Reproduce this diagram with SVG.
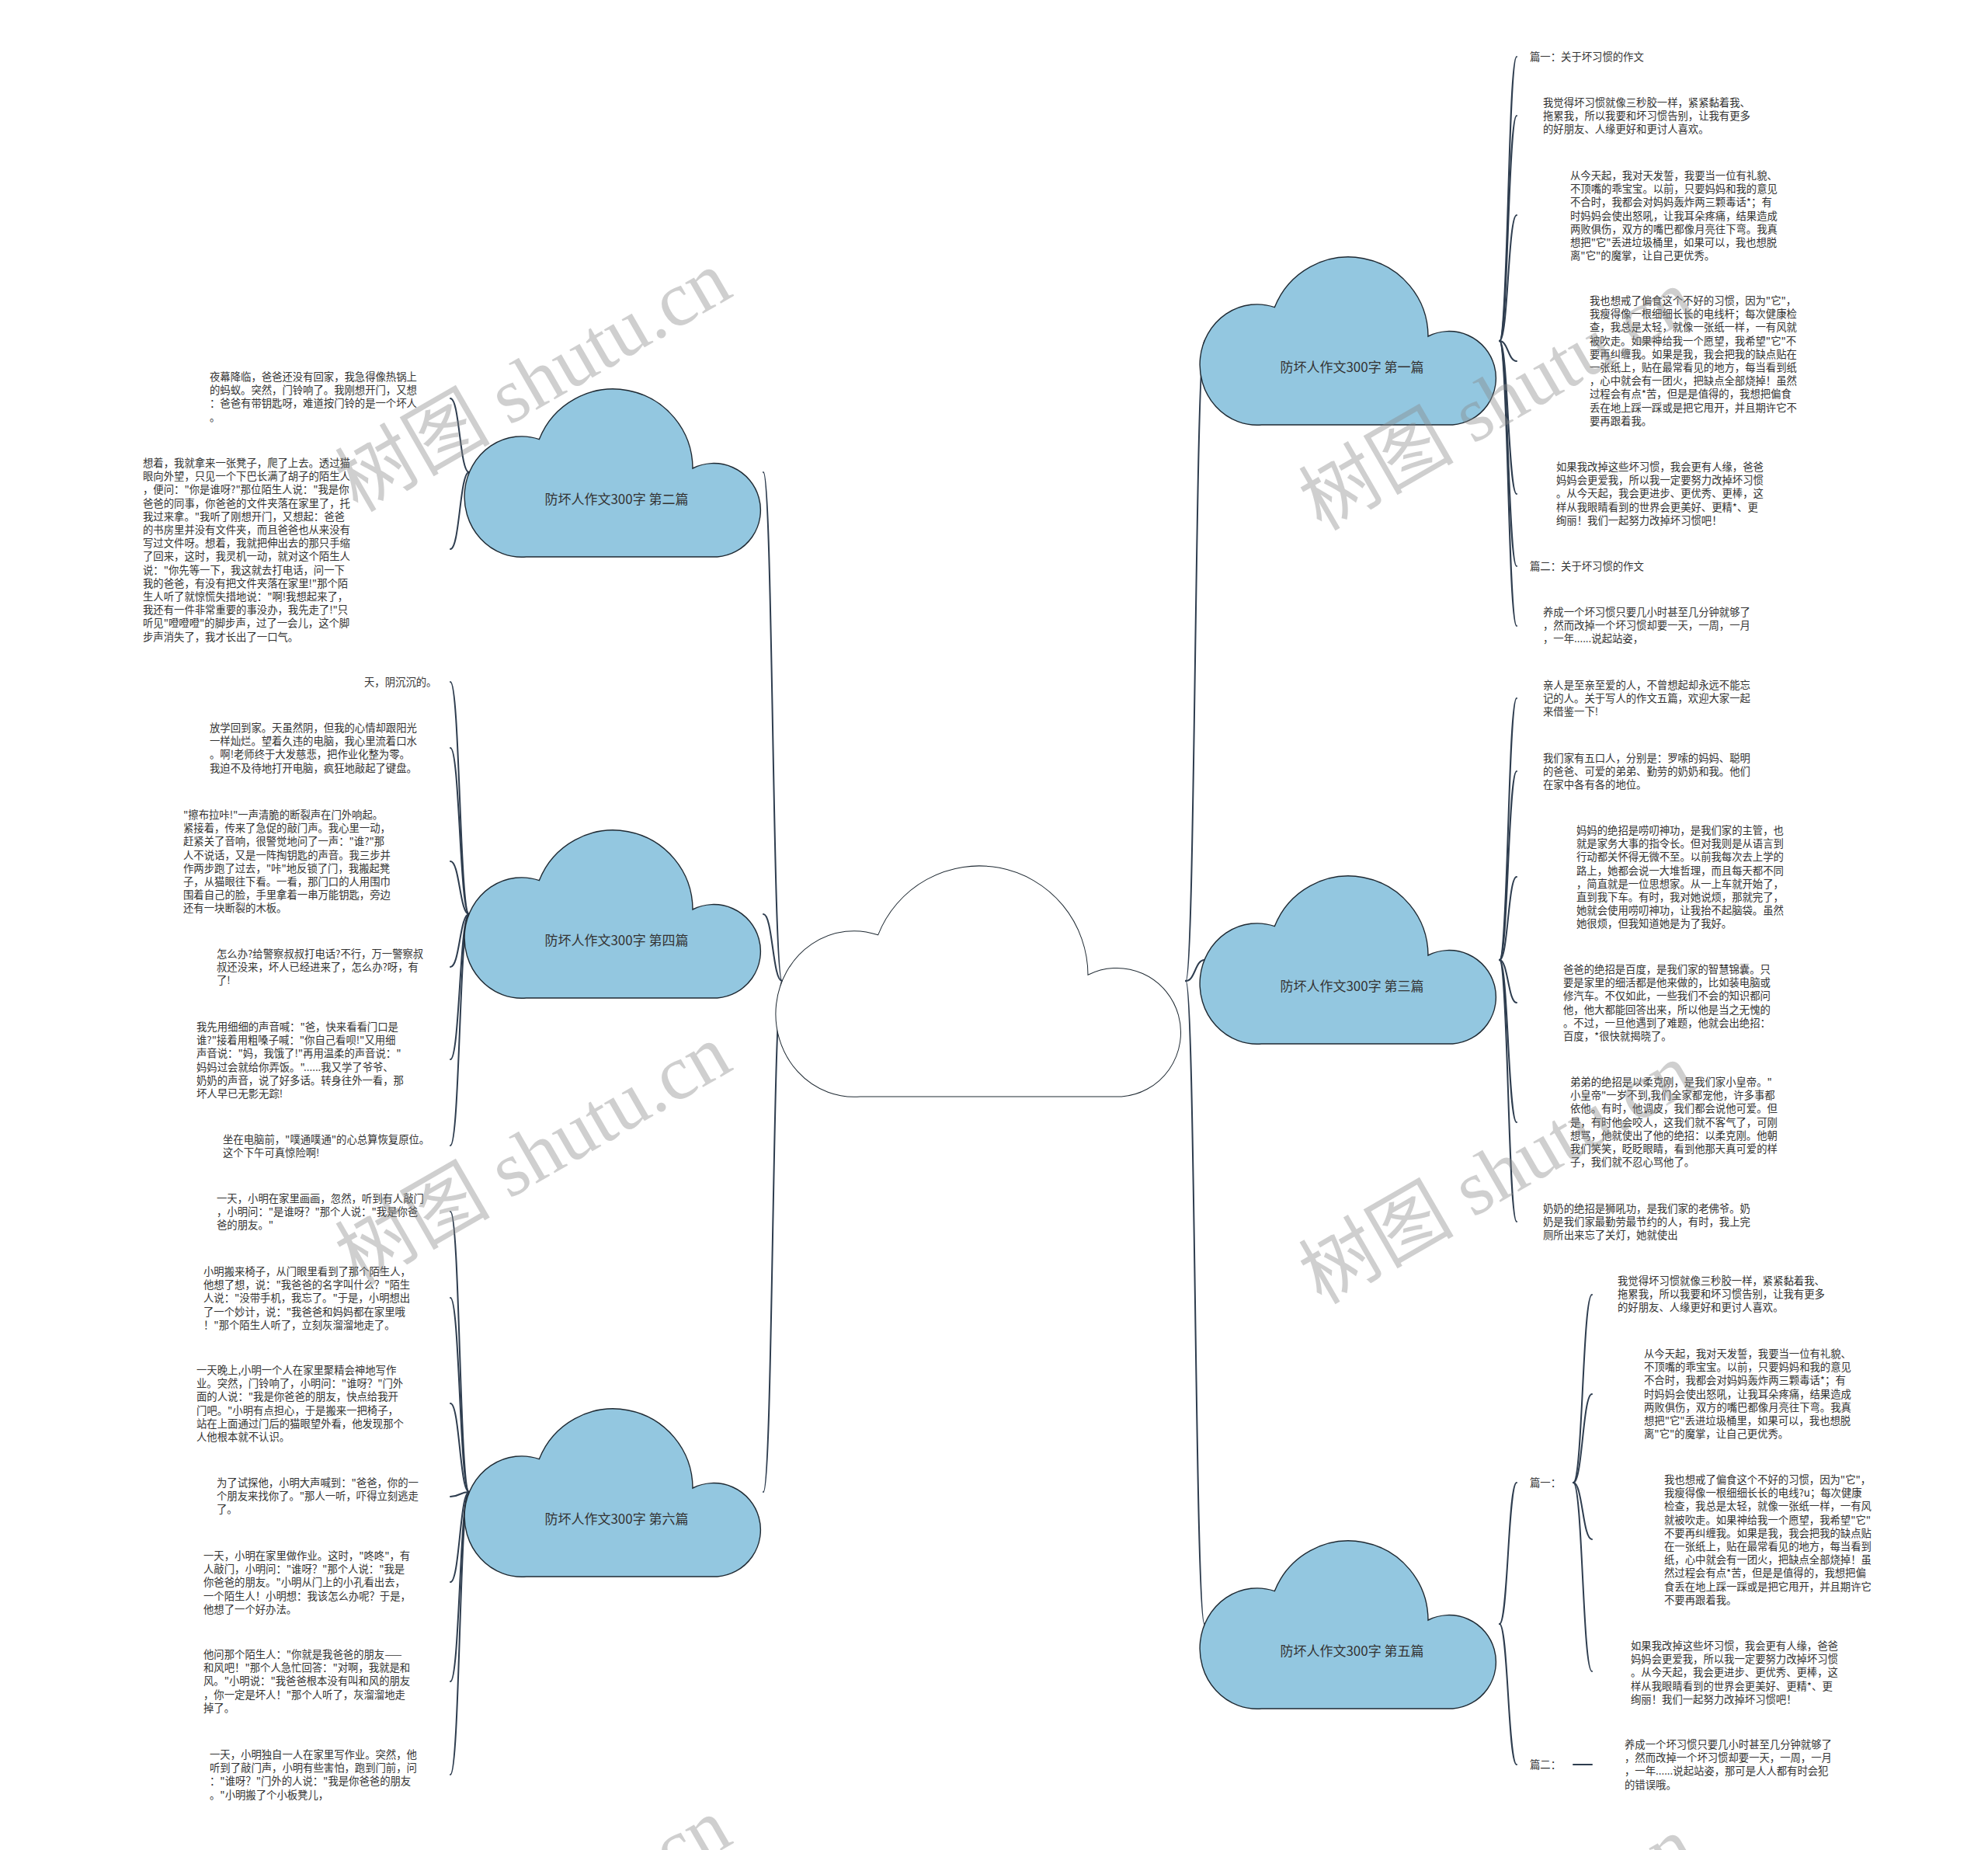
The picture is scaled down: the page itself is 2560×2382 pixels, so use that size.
<svg xmlns="http://www.w3.org/2000/svg" width="2560" height="2382" viewBox="0 0 2560 2382">
<style>
.t{font-family:"Noto Sans CJK SC","Noto Sans",sans-serif;font-size:13.35px;fill:#333}
.n{font-family:"Noto Sans CJK SC","Noto Sans",sans-serif;font-size:17px;fill:#333;text-anchor:middle}
.cl{fill:#93c7e0;stroke:#1f2a33;stroke-width:1.4}
.cc{fill:#fff;stroke:#1f2a33;stroke-width:1}
.c{fill:none;stroke:#2e3d4f;stroke-width:2;stroke-linecap:round}
.w{font-family:"Liberation Serif","Noto Sans CJK SC",serif;font-size:100px;fill:#888;opacity:.4;text-anchor:middle}
</style>
<defs>
<path id="cloud" d="M73.7 216 A73.7 77.7 0 1 1 90.4 64.6 A102.4 102.4 0 0 1 288 102 A60.3 60.3 0 1 1 319.7 216 Z"/>
</defs>
<rect width="2560" height="2382" fill="#fff"/>
<g id="connectors">
<path class="c" d="M1007 1263 C995 1263,995 608,983 608"/>
<path class="c" d="M1007 1263 C995 1263,995 1177,983 1177"/>
<path class="c" d="M1007 1263 C995 1263,995 1921,983 1921"/>
<path class="c" d="M1527 1263 C1539 1263,1539 439,1551 439"/>
<path class="c" d="M1527 1263 C1539 1263,1539 1236,1551 1236"/>
<path class="c" d="M1527 1263 C1539 1263,1539 2091,1551 2091"/>
<path class="c" d="M604 608 C592 608,592 513,580 513"/>
<path class="c" d="M604 608 C592 608,592 707,580 707"/>
<path class="c" d="M604 1177 C592 1177,592 878,580 878"/>
<path class="c" d="M604 1177 C592 1177,592 963,580 963"/>
<path class="c" d="M604 1177 C592 1177,592 1109,580 1109"/>
<path class="c" d="M604 1177 C592 1177,592 1245,580 1245"/>
<path class="c" d="M604 1177 C592 1177,592 1364,580 1364"/>
<path class="c" d="M604 1177 C592 1177,592 1475,580 1475"/>
<path class="c" d="M604 1921 C592 1921,592 1560,580 1560"/>
<path class="c" d="M604 1921 C592 1921,592 1671,580 1671"/>
<path class="c" d="M604 1921 C592 1921,592 1807,580 1807"/>
<path class="c" d="M604 1921 C592 1921,592 1927,580 1927"/>
<path class="c" d="M604 1921 C592 1921,592 2037,580 2037"/>
<path class="c" d="M604 1921 C592 1921,592 2165,580 2165"/>
<path class="c" d="M604 1921 C592 1921,592 2285,580 2285"/>
<path class="c" d="M1931 439 C1942 439,1942 73,1953 73"/>
<path class="c" d="M1931 439 C1942 439,1942 149,1953 149"/>
<path class="c" d="M1931 439 C1942 439,1942 277,1953 277"/>
<path class="c" d="M1931 439 C1942 439,1942 465,1953 465"/>
<path class="c" d="M1931 439 C1942 439,1942 636,1953 636"/>
<path class="c" d="M1931 439 C1942 439,1942 729,1953 729"/>
<path class="c" d="M1931 439 C1942 439,1942 806,1953 806"/>
<path class="c" d="M1931 1236 C1942 1236,1942 899,1953 899"/>
<path class="c" d="M1931 1236 C1942 1236,1942 993,1953 993"/>
<path class="c" d="M1931 1236 C1942 1236,1942 1129,1953 1129"/>
<path class="c" d="M1931 1236 C1942 1236,1942 1291,1953 1291"/>
<path class="c" d="M1931 1236 C1942 1236,1942 1445,1953 1445"/>
<path class="c" d="M1931 1236 C1942 1236,1942 1573,1953 1573"/>
<path class="c" d="M1931 2091 C1942 2091,1942 1909,1953 1909"/>
<path class="c" d="M1931 2091 C1942 2091,1942 2272,1953 2272"/>
<path class="c" d="M2026 1909 C2038 1909,2038 1667,2050 1667"/>
<path class="c" d="M2026 1909 C2038 1909,2038 1795,2050 1795"/>
<path class="c" d="M2026 1909 C2038 1909,2038 1982,2050 1982"/>
<path class="c" d="M2026 1909 C2038 1909,2038 2152,2050 2152"/>
<path class="c" d="M2026 2272 L2050 2272"/>
</g>
<g id="center"><use href="#cloud" class="cc" transform="translate(1007 1115) scale(1.368 1.375)" style="stroke-width:0.73"/></g>
<g id="n1"><use href="#cloud" class="cl" transform="translate(1551 331)"/><text class="n" x="1741" y="479">防坏人作文300字 第一篇</text></g>
<g id="n2"><use href="#cloud" class="cl" transform="translate(604 501)"/><text class="n" x="794" y="649">防坏人作文300字 第二篇</text></g>
<g id="n3"><use href="#cloud" class="cl" transform="translate(1551 1128)"/><text class="n" x="1741" y="1276">防坏人作文300字 第三篇</text></g>
<g id="n4"><use href="#cloud" class="cl" transform="translate(604 1069)"/><text class="n" x="794" y="1217">防坏人作文300字 第四篇</text></g>
<g id="n5"><use href="#cloud" class="cl" transform="translate(1551 1984)"/><text class="n" x="1741" y="2132">防坏人作文300字 第五篇</text></g>
<g id="n6"><use href="#cloud" class="cl" transform="translate(604 1814)"/><text class="n" x="794" y="1962">防坏人作文300字 第六篇</text></g>

<g id="t2a"><text class="t" x="270" y="490"><tspan x="270">夜幕降临，爸爸还没有回家，我急得像热锅上</tspan><tspan x="270" dy="17.2">的蚂蚁。突然，门铃响了。我刚想开门，又想</tspan><tspan x="270" dy="17.2">：爸爸有带钥匙呀，难道按门铃的是一个坏人</tspan><tspan x="270" dy="17.2">。</tspan></text></g>
<g id="t2b"><text class="t" x="184" y="601"><tspan x="184">想着，我就拿来一张凳子，爬了上去。透过猫</tspan><tspan x="184" dy="17.2">眼向外望，只见一个下巴长满了胡子的陌生人</tspan><tspan x="184" dy="17.2">，便问："你是谁呀?"那位陌生人说："我是你</tspan><tspan x="184" dy="17.2">爸爸的同事，你爸爸的文件夹落在家里了，托</tspan><tspan x="184" dy="17.2">我过来拿。"我听了刚想开门，又想起：爸爸</tspan><tspan x="184" dy="17.2">的书房里并没有文件夹，而且爸爸也从来没有</tspan><tspan x="184" dy="17.2">写过文件呀。想着，我就把伸出去的那只手缩</tspan><tspan x="184" dy="17.2">了回来，这时，我灵机一动，就对这个陌生人</tspan><tspan x="184" dy="17.2">说："你先等一下，我这就去打电话，问一下</tspan><tspan x="184" dy="17.2">我的爸爸，有没有把文件夹落在家里!"那个陌</tspan><tspan x="184" dy="17.2">生人听了就惊慌失措地说："啊!我想起来了，</tspan><tspan x="184" dy="17.2">我还有一件非常重要的事没办，我先走了!"只</tspan><tspan x="184" dy="17.2">听见"噔噔噔"的脚步声，过了一会儿，这个脚</tspan><tspan x="184" dy="17.2">步声消失了，我才长出了一口气。</tspan></text></g>
<g id="t4a"><text class="t" x="469" y="883">天，阴沉沉的。</text></g>
<g id="t4b"><text class="t" x="270" y="942"><tspan x="270">放学回到家。天虽然阴，但我的心情却跟阳光</tspan><tspan x="270" dy="17.2">一样灿烂。望着久违的电脑，我心里流着口水</tspan><tspan x="270" dy="17.2">。啊!老师终于大发慈悲，把作业化整为零。</tspan><tspan x="270" dy="17.2">我迫不及待地打开电脑，疯狂地敲起了键盘。</tspan></text></g>
<g id="t4c"><text class="t" x="236" y="1054"><tspan x="236">"擦布拉咔!"一声清脆的断裂声在门外响起。</tspan><tspan x="236" dy="17.2">紧接着，传来了急促的敲门声。我心里一动，</tspan><tspan x="236" dy="17.2">赶紧关了音响，很警觉地问了一声："谁?"那</tspan><tspan x="236" dy="17.2">人不说话，又是一阵掏钥匙的声音。我三步并</tspan><tspan x="236" dy="17.2">作两步跑了过去，"咔"地反锁了门，我搬起凳</tspan><tspan x="236" dy="17.2">子，从猫眼往下看。一看，那门口的人用围巾</tspan><tspan x="236" dy="17.2">围着自己的脸，手里拿着一串万能钥匙，旁边</tspan><tspan x="236" dy="17.2">还有一块断裂的木板。</tspan></text></g>
<g id="t4d"><text class="t" x="279" y="1233"><tspan x="279">怎么办?给警察叔叔打电话?不行，万一警察叔</tspan><tspan x="279" dy="17.2">叔还没来，坏人已经进来了，怎么办?呀，有</tspan><tspan x="279" dy="17.2">了!</tspan></text></g>
<g id="t4e"><text class="t" x="253" y="1327"><tspan x="253">我先用细细的声音喊："爸，快来看看门口是</tspan><tspan x="253" dy="17.2">谁?"接着用粗嗓子喊："你自己看呗!"又用细</tspan><tspan x="253" dy="17.2">声音说："妈，我饿了!"再用温柔的声音说："</tspan><tspan x="253" dy="17.2">妈妈过会就给你弄饭。"......我又学了爷爷、</tspan><tspan x="253" dy="17.2">奶奶的声音，说了好多话。转身往外一看，那</tspan><tspan x="253" dy="17.2">坏人早已无影无踪!</tspan></text></g>
<g id="t4f"><text class="t" x="287" y="1472"><tspan x="287">坐在电脑前，"噗通噗通"的心总算恢复原位。</tspan><tspan x="287" dy="17.2">这个下午可真惊险啊!</tspan></text></g>
<g id="t6a"><text class="t" x="279" y="1548"><tspan x="279">一天，小明在家里画画，忽然，听到有人敲门</tspan><tspan x="279" dy="17.2">，小明问："是谁呀？"那个人说："我是你爸</tspan><tspan x="279" dy="17.2">爸的朋友。"</tspan></text></g>
<g id="t6b"><text class="t" x="262" y="1642"><tspan x="262">小明搬来椅子，从门眼里看到了那个陌生人，</tspan><tspan x="262" dy="17.2">他想了想，说："我爸爸的名字叫什么？"陌生</tspan><tspan x="262" dy="17.2">人说："没带手机，我忘了。"于是，小明想出</tspan><tspan x="262" dy="17.2">了一个妙计，说："我爸爸和妈妈都在家里哦</tspan><tspan x="262" dy="17.2">！"那个陌生人听了，立刻灰溜溜地走了。</tspan></text></g>
<g id="t6c"><text class="t" x="253" y="1769"><tspan x="253">一天晚上,小明一个人在家里聚精会神地写作</tspan><tspan x="253" dy="17.2">业。突然，门铃响了，小明问："谁呀？"门外</tspan><tspan x="253" dy="17.2">面的人说："我是你爸爸的朋友，快点给我开</tspan><tspan x="253" dy="17.2">门吧。"小明有点担心，于是搬来一把椅子，</tspan><tspan x="253" dy="17.2">站在上面通过门后的猫眼望外看，他发现那个</tspan><tspan x="253" dy="17.2">人他根本就不认识。</tspan></text></g>
<g id="t6d"><text class="t" x="279" y="1914"><tspan x="279">为了试探他，小明大声喊到："爸爸，你的一</tspan><tspan x="279" dy="17.2">个朋友来找你了。"那人一听，吓得立刻逃走</tspan><tspan x="279" dy="17.2">了。</tspan></text></g>
<g id="t6e"><text class="t" x="262" y="2008"><tspan x="262">一天，小明在家里做作业。这时，"咚咚"，有</tspan><tspan x="262" dy="17.2">人敲门，小明问："谁呀？"那个人说："我是</tspan><tspan x="262" dy="17.2">你爸爸的朋友。"小明从门上的小孔看出去，</tspan><tspan x="262" dy="17.2">一个陌生人！小明想：我该怎么办呢？于是，</tspan><tspan x="262" dy="17.2">他想了一个好办法。</tspan></text></g>
<g id="t6f"><text class="t" x="262" y="2135"><tspan x="262">他问那个陌生人："你就是我爸爸的朋友——</tspan><tspan x="262" dy="17.2">和风吧！"那个人急忙回答："对啊，我就是和</tspan><tspan x="262" dy="17.2">风。"小明说："我爸爸根本没有叫和风的朋友</tspan><tspan x="262" dy="17.2">，你一定是坏人！"那个人听了，灰溜溜地走</tspan><tspan x="262" dy="17.2">掉了。</tspan></text></g>
<g id="t6g"><text class="t" x="270" y="2264"><tspan x="270">一天，小明独自一人在家里写作业。突然，他</tspan><tspan x="270" dy="17.2">听到了敲门声，小明有些害怕，跑到门前，问</tspan><tspan x="270" dy="17.2">："谁呀？"门外的人说："我是你爸爸的朋友</tspan><tspan x="270" dy="17.2">。"小明搬了个小板凳儿，</tspan></text></g>

<g id="t1a"><text class="t" x="1970" y="78">篇一：关于坏习惯的作文</text></g>
<g id="t1b"><text class="t" x="1987" y="137"><tspan x="1987">我觉得坏习惯就像三秒胶一样，紧紧黏着我、</tspan><tspan x="1987" dy="17.2">拖累我，所以我要和坏习惯告别，让我有更多</tspan><tspan x="1987" dy="17.2">的好朋友、人缘更好和更讨人喜欢。</tspan></text></g>
<g id="t1c"><text class="t" x="2022" y="231"><tspan x="2022">从今天起，我对天发誓，我要当一位有礼貌、</tspan><tspan x="2022" dy="17.2">不顶嘴的乖宝宝。以前，只要妈妈和我的意见</tspan><tspan x="2022" dy="17.2">不合时，我都会对妈妈轰炸两三颗毒话*；有</tspan><tspan x="2022" dy="17.2">时妈妈会使出怒吼，让我耳朵疼痛，结果造成</tspan><tspan x="2022" dy="17.2">两败俱伤，双方的嘴巴都像月亮往下弯。我真</tspan><tspan x="2022" dy="17.2">想把"它"丢进垃圾桶里，如果可以，我也想脱</tspan><tspan x="2022" dy="17.2">离"它"的魔掌，让自己更优秀。</tspan></text></g>
<g id="t1d"><text class="t" x="2047" y="392"><tspan x="2047">我也想戒了偏食这个不好的习惯，因为"它"，</tspan><tspan x="2047" dy="17.2">我瘦得像一根细细长长的电线杆；每次健康检</tspan><tspan x="2047" dy="17.2">查，我总是太轻，就像一张纸一样，一有风就</tspan><tspan x="2047" dy="17.2">被吹走。如果神给我一个愿望，我希望"它"不</tspan><tspan x="2047" dy="17.2">要再纠缠我。如果是我，我会把我的缺点贴在</tspan><tspan x="2047" dy="17.2">一张纸上，贴在最常看见的地方，每当看到纸</tspan><tspan x="2047" dy="17.2">，心中就会有一团火，把缺点全部烧掉！虽然</tspan><tspan x="2047" dy="17.2">过程会有点*苦，但是是值得的，我想把偏食</tspan><tspan x="2047" dy="17.2">丢在地上踩一踩或是把它甩开，并且期许它不</tspan><tspan x="2047" dy="17.2">要再跟着我。</tspan></text></g>
<g id="t1e"><text class="t" x="2004" y="606"><tspan x="2004">如果我改掉这些坏习惯，我会更有人缘，爸爸</tspan><tspan x="2004" dy="17.2">妈妈会更爱我，所以我一定要努力改掉坏习惯</tspan><tspan x="2004" dy="17.2">。从今天起，我会更进步、更优秀、更棒，这</tspan><tspan x="2004" dy="17.2">样从我眼睛看到的世界会更美好、更精*、更</tspan><tspan x="2004" dy="17.2">绚丽！我们一起努力改掉坏习惯吧！</tspan></text></g>
<g id="t1f"><text class="t" x="1970" y="734">篇二：关于坏习惯的作文</text></g>
<g id="t1g"><text class="t" x="1987" y="793"><tspan x="1987">养成一个坏习惯只要几小时甚至几分钟就够了</tspan><tspan x="1987" dy="17.2">，然而改掉一个坏习惯却要一天，一周，一月</tspan><tspan x="1987" dy="17.2">，一年......说起站姿，</tspan></text></g>

<g id="t3a"><text class="t" x="1987" y="887"><tspan x="1987">亲人是至亲至爱的人，不曾想起却永远不能忘</tspan><tspan x="1987" dy="17.2">记的人。关于写人的作文五篇，欢迎大家一起</tspan><tspan x="1987" dy="17.2">来借鉴一下!</tspan></text></g>
<g id="t3b"><text class="t" x="1987" y="981"><tspan x="1987">我们家有五口人，分别是：罗嗦的妈妈、聪明</tspan><tspan x="1987" dy="17.2">的爸爸、可爱的弟弟、勤劳的奶奶和我。他们</tspan><tspan x="1987" dy="17.2">在家中各有各的地位。</tspan></text></g>
<g id="t3c"><text class="t" x="2030" y="1074"><tspan x="2030">妈妈的绝招是唠叨神功，是我们家的主管，也</tspan><tspan x="2030" dy="17.2">就是家务大事的指令长。但对我则是从语言到</tspan><tspan x="2030" dy="17.2">行动都关怀得无微不至。以前我每次去上学的</tspan><tspan x="2030" dy="17.2">路上，她都会说一大堆哲理，而且每天都不同</tspan><tspan x="2030" dy="17.2">，简直就是一位思想家。从一上车就开始了，</tspan><tspan x="2030" dy="17.2">直到我下车。有时，我对她说烦，那就完了，</tspan><tspan x="2030" dy="17.2">她就会使用唠叨神功，让我抬不起脑袋。虽然</tspan><tspan x="2030" dy="17.2">她很烦，但我知道她是为了我好。</tspan></text></g>
<g id="t3d"><text class="t" x="2013" y="1253"><tspan x="2013">爸爸的绝招是百度，是我们家的智慧锦囊。只</tspan><tspan x="2013" dy="17.2">要是家里的细活都是他来做的，比如装电脑或</tspan><tspan x="2013" dy="17.2">修汽车。不仅如此，一些我们不会的知识都问</tspan><tspan x="2013" dy="17.2">他，他大都能回答出来，所以他是当之无愧的</tspan><tspan x="2013" dy="17.2">。不过，一旦他遇到了难题，他就会出绝招：</tspan><tspan x="2013" dy="17.2">百度，*很快就揭晓了。</tspan></text></g>
<g id="t3e"><text class="t" x="2022" y="1398"><tspan x="2022">弟弟的绝招是以柔克刚，是我们家小皇帝。"</tspan><tspan x="2022" dy="17.2">小皇帝"一岁不到,我们全家都宠他，许多事都</tspan><tspan x="2022" dy="17.2">依他。有时，他调皮，我们都会说他可爱。但</tspan><tspan x="2022" dy="17.2">是，有时他会咬人，这我们就不客气了，可刚</tspan><tspan x="2022" dy="17.2">想骂，他就使出了他的绝招：以柔克刚。他朝</tspan><tspan x="2022" dy="17.2">我们笑笑，眨眨眼睛，看到他那天真可爱的样</tspan><tspan x="2022" dy="17.2">子，我们就不忍心骂他了。</tspan></text></g>
<g id="t3f"><text class="t" x="1987" y="1561"><tspan x="1987">奶奶的绝招是狮吼功，是我们家的老佛爷。奶</tspan><tspan x="1987" dy="17.2">奶是我们家最勤劳最节约的人，有时，我上完</tspan><tspan x="1987" dy="17.2">厕所出来忘了关灯，她就使出</tspan></text></g>

<g id="t5p1"><text class="t" x="1970" y="1914">篇一：</text></g>
<g id="t5a"><text class="t" x="2083" y="1654"><tspan x="2083">我觉得坏习惯就像三秒胶一样，紧紧黏着我、</tspan><tspan x="2083" dy="17.2">拖累我，所以我要和坏习惯告别，让我有更多</tspan><tspan x="2083" dy="17.2">的好朋友、人缘更好和更讨人喜欢。</tspan></text></g>
<g id="t5b"><text class="t" x="2117" y="1748"><tspan x="2117">从今天起，我对天发誓，我要当一位有礼貌、</tspan><tspan x="2117" dy="17.2">不顶嘴的乖宝宝。以前，只要妈妈和我的意见</tspan><tspan x="2117" dy="17.2">不合时，我都会对妈妈轰炸两三颗毒话*；有</tspan><tspan x="2117" dy="17.2">时妈妈会使出怒吼，让我耳朵疼痛，结果造成</tspan><tspan x="2117" dy="17.2">两败俱伤，双方的嘴巴都像月亮往下弯。我真</tspan><tspan x="2117" dy="17.2">想把"它"丢进垃圾桶里，如果可以，我也想脱</tspan><tspan x="2117" dy="17.2">离"它"的魔掌，让自己更优秀。</tspan></text></g>
<g id="t5c"><text class="t" x="2143" y="1910"><tspan x="2143">我也想戒了偏食这个不好的习惯，因为"它"，</tspan><tspan x="2143" dy="17.2">我瘦得像一根细细长长的电线?u；每次健康</tspan><tspan x="2143" dy="17.2">检查，我总是太轻，就像一张纸一样，一有风</tspan><tspan x="2143" dy="17.2">就被吹走。如果神给我一个愿望，我希望"它"</tspan><tspan x="2143" dy="17.2">不要再纠缠我。如果是我，我会把我的缺点贴</tspan><tspan x="2143" dy="17.2">在一张纸上，贴在最常看见的地方，每当看到</tspan><tspan x="2143" dy="17.2">纸，心中就会有一团火，把缺点全部烧掉！虽</tspan><tspan x="2143" dy="17.2">然过程会有点*苦，但是是值得的，我想把偏</tspan><tspan x="2143" dy="17.2">食丢在地上踩一踩或是把它甩开，并且期许它</tspan><tspan x="2143" dy="17.2">不要再跟着我。</tspan></text></g>
<g id="t5d"><text class="t" x="2100" y="2124"><tspan x="2100">如果我改掉这些坏习惯，我会更有人缘，爸爸</tspan><tspan x="2100" dy="17.2">妈妈会更爱我，所以我一定要努力改掉坏习惯</tspan><tspan x="2100" dy="17.2">。从今天起，我会更进步、更优秀、更棒，这</tspan><tspan x="2100" dy="17.2">样从我眼睛看到的世界会更美好、更精*、更</tspan><tspan x="2100" dy="17.2">绚丽！我们一起努力改掉坏习惯吧！</tspan></text></g>
<g id="t5p2"><text class="t" x="1970" y="2277">篇二：</text></g>
<g id="t5e"><text class="t" x="2092" y="2251"><tspan x="2092">养成一个坏习惯只要几小时甚至几分钟就够了</tspan><tspan x="2092" dy="17.2">，然而改掉一个坏习惯却要一天，一周，一月</tspan><tspan x="2092" dy="17.2">，一年......说起站姿，那可是人人都有时会犯</tspan><tspan x="2092" dy="17.2">的错误哦。</tspan></text></g>

<g id="watermark">
<text class="w" x="686" y="525" transform="rotate(-30 686 490)">树图 shutu.cn</text>
<text class="w" x="1927" y="549" transform="rotate(-30 1927 514)">树图 shutu.cn</text>
<text class="w" x="686" y="1521" transform="rotate(-30 686 1486)">树图 shutu.cn</text>
<text class="w" x="1927" y="1545" transform="rotate(-30 1927 1510)">树图 shutu.cn</text>
<text class="w" x="686" y="2517" transform="rotate(-30 686 2482)">树图 shutu.cn</text>
<text class="w" x="1927" y="2541" transform="rotate(-30 1927 2506)">树图 shutu.cn</text>
</g>
</svg>
